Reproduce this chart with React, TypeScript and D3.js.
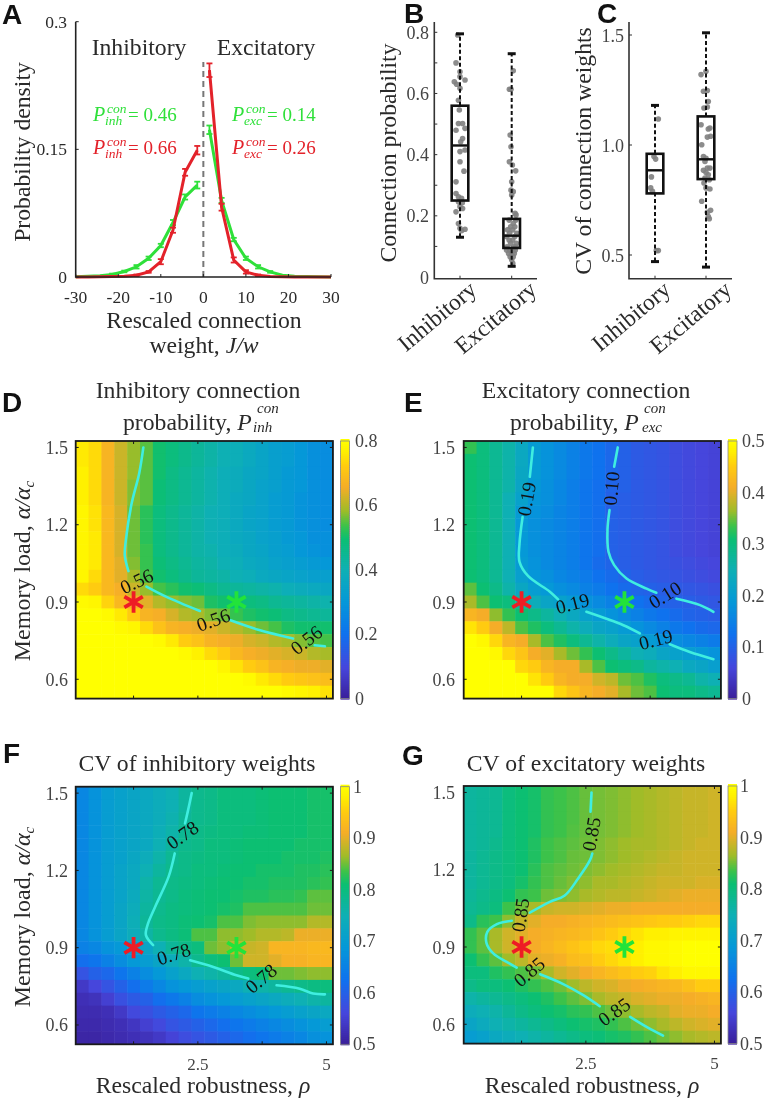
// App.tsx - connection statistics figure, panels A to G
import React from 'react';
import * as d3 from 'd3';

const SERIF = '"Liberation Serif", serif';
const SANS = '"Liberation Sans", sans-serif';
const TEXT = '#2a2a2a';
const GREEN = '#2fe03a';
const RED = '#e3222a';
const LABEL_SIZE = 23.7;

// panel A
const binCentersNeg = [-30, -27.14, -24.29, -21.43, -18.57, -15.71, -12.86, -10, -7.14, -4.29, -1.43];
const binCentersPos = [1.43, 4.29, 7.14, 10, 12.86, 15.71, 18.57, 21.43, 24.29, 27.14, 30];
const greenNeg = [0.0003, 0.0008, 0.0015, 0.003, 0.0065, 0.012, 0.022, 0.037, 0.064, 0.094, 0.108];
const greenNegErr = [0, 0, 0, 0.001, 0.001, 0.002, 0.002, 0.002, 0.003, 0.003, 0.004];
const greenPos = [0.173, 0.09, 0.044, 0.022, 0.012, 0.006, 0.002, 0.001, 0.0005, 0.0002, 0.0001];
const greenPosErr = [0.005, 0.003, 0.002, 0.002, 0.002, 0.001, 0, 0, 0, 0, 0];
const redNeg = [0, 0.0001, 0.0002, 0.0005, 0.001, 0.002, 0.006, 0.018, 0.055, 0.123, 0.149];
const redNegErr = [0, 0, 0, 0, 0, 0.001, 0.001, 0.003, 0.003, 0.004, 0.005];
const redPos = [0.243, 0.082, 0.02, 0.006, 0.002, 0.0005, 0.0002, 0.0001, 0, 0, 0];
const redPosErr = [0.008, 0.004, 0.003, 0.002, 0.001, 0, 0, 0, 0, 0, 0];
const axisATicks = [-30, -20, -10, 0, 10, 20, 30];

// panel B and C boxes: [low whisker, q1, median, q3, high whisker]
const probInhBox = [0.13, 0.25, 0.43, 0.56, 0.795];
const probExcBox = [0.035, 0.095, 0.135, 0.19, 0.73];
const cvInhBox = [0.47, 0.78, 0.885, 0.96, 1.18];
const cvExcBox = [0.445, 0.845, 0.935, 1.13, 1.51];

// scatter over the boxes: [offset from category, value]
const probInhPts = [[-0.045, 0.791], [-0.077, 0.70], [0, 0.671], [0, 0.655], [-0.11, 0.638], [0.097, 0.644], [-0.065, 0.63], [0, 0.617], [-0.03, 0.578], [-0.013, 0.546], [-0.03, 0.502], [0.05, 0.502], [-0.077, 0.48], [0.097, 0.486], [0.05, 0.453], [0.013, 0.442], [0, 0.41], [0.097, 0.415], [0, 0.377], [0.077, 0.346], [-0.077, 0.311], [-0.077, 0.273], [-0.03, 0.262], [0.03, 0.257], [-0.03, 0.246], [0.045, 0.243], [0, 0.23], [0.05, 0.224], [-0.077, 0.213], [-0.03, 0.175], [0, 0.159], [0.097, 0.156], [0.03, 0.151]];
const probExcPts = [[0.03, 0.674], [-0.045, 0.614], [-0.013, 0.614], [-0.03, 0.464], [-0.013, 0.426], [-0.045, 0.377], [0.013, 0.366], [0.077, 0.347], [0, 0.311], [-0.013, 0.284], [0.03, 0.279], [0, 0.268], [0.065, 0.208], [0.084, 0.203], [-0.05, 0.186], [0.08, 0.186], [0.03, 0.175], [-0.02, 0.164], [0.06, 0.164], [-0.08, 0.154], [0.02, 0.154], [0.1, 0.143], [-0.04, 0.143], [0.06, 0.132], [-0.1, 0.132], [0.02, 0.121], [-0.05, 0.121], [0.09, 0.11], [-0.02, 0.11], [-0.09, 0.099], [0.04, 0.099], [0.08, 0.099], [-0.04, 0.088], [0.02, 0.088], [-0.1, 0.088], [0.07, 0.088], [-0.06, 0.077], [0, 0.077], [0.05, 0.077], [-0.03, 0.066], [0.03, 0.066], [0, 0.056], [0.02, 0.045]];
const cvInhPts = [[0.065, 1.118], [-0.02, 0.948], [0.013, 0.936], [-0.07, 0.855], [-0.084, 0.805], [-0.05, 0.789], [0.065, 0.52], [0.026, 0.52]];
const cvExcPts = [[-0.097, 1.32], [0, 1.335], [-0.05, 1.244], [0.026, 1.248], [0.045, 1.198], [-0.04, 1.168], [0.026, 1.173], [-0.097, 1.092], [0.045, 1.073], [0.077, 1.077], [0.026, 1.036], [0.09, 1.04], [-0.084, 1.001], [-0.05, 0.948], [0, 0.94], [-0.02, 0.925], [0.026, 0.895], [0.077, 0.895], [-0.05, 0.885], [0, 0.875], [0.045, 0.865], [-0.02, 0.85], [0.065, 0.842], [-0.04, 0.827], [0, 0.805], [0.077, 0.80], [-0.084, 0.744], [0.09, 0.703], [0.026, 0.694], [0.045, 0.675], [0.065, 0.665]];

// heatmap axes
const rhoCells = [0.25, 0.5, 0.75, 1, 1.25, 1.5, 1.75, 2, 2.25, 2.5, 2.75, 3, 3.25, 3.5, 3.75, 4, 4.25, 4.5, 4.75, 5];
const alphaCells = [1.5, 1.45, 1.4, 1.35, 1.3, 1.25, 1.2, 1.15, 1.1, 1.05, 1, 0.95, 0.9, 0.85, 0.8, 0.75, 0.7, 0.65, 0.6, 0.55];
const rhoTicks = [1.25, 2.5, 3.75, 5];
const alphaTicks = [0.6, 0.9, 1.2, 1.5];

const inhProbGrid = [
  [.76, .74, .67, .62, .58, .55, .50, .48, .46, .44, .42, .40, .39, .37, .35, .33, .32, .30, .28, .27],
  [.76, .74, .67, .62, .58, .55, .50, .48, .46, .44, .42, .40, .39, .37, .35, .33, .32, .30, .28, .27],
  [.77, .74, .67, .62, .58, .55, .50, .47, .45, .43, .41, .39, .38, .36, .35, .33, .31, .30, .28, .27],
  [.77, .74, .67, .62, .57, .55, .49, .47, .45, .43, .41, .39, .38, .36, .34, .33, .31, .30, .28, .27],
  [.77, .74, .67, .62, .57, .55, .49, .47, .45, .43, .41, .39, .37, .36, .34, .32, .31, .29, .28, .27],
  [.78, .75, .68, .63, .56, .52, .48, .46, .44, .42, .40, .39, .37, .35, .34, .32, .31, .29, .28, .27],
  [.78, .75, .68, .63, .56, .52, .48, .46, .44, .42, .40, .39, .37, .35, .34, .32, .31, .29, .28, .27],
  [.78, .76, .68, .63, .56, .52, .48, .46, .44, .42, .40, .39, .37, .36, .34, .33, .31, .30, .28, .28],
  [.78, .76, .68, .63, .56, .53, .48, .46, .44, .42, .41, .39, .38, .36, .35, .33, .32, .30, .29, .28],
  [.78, .76, .68, .64, .57, .53, .49, .47, .45, .43, .42, .40, .39, .37, .36, .34, .33, .32, .31, .30],
  [.78, .74, .68, .64, .59, .54, .50, .48, .46, .44, .43, .42, .40, .39, .37, .36, .35, .34, .33, .33],
  [.74, .72, .68, .66, .62, .58, .54, .52, .50, .49, .47, .45, .44, .43, .42, .41, .39, .38, .37, .36],
  [.79, .78, .73, .68, .66, .64, .60, .58, .57, .56, .51, .50, .49, .48, .47, .45, .44, .43, .42, .41],
  [.80, .80, .79, .76, .72, .67, .66, .63, .60, .59, .57, .56, .53, .51, .50, .49, .47, .46, .45, .44],
  [.80, .80, .80, .79, .78, .74, .70, .67, .66, .65, .64, .62, .60, .58, .56, .54, .51, .50, .50, .50],
  [.80, .80, .80, .80, .80, .80, .79, .76, .72, .70, .67, .66, .65, .63, .62, .60, .59, .57, .55, .54],
  [.80, .80, .80, .80, .80, .80, .80, .80, .79, .77, .74, .72, .68, .66, .65, .64, .63, .62, .60, .59],
  [.80, .80, .80, .80, .80, .80, .80, .80, .80, .80, .80, .78, .75, .72, .70, .67, .66, .65, .65, .64],
  [.80, .80, .80, .80, .80, .80, .80, .80, .80, .80, .80, .80, .80, .79, .76, .74, .72, .71, .70, .69],
  [.80, .80, .80, .80, .80, .80, .80, .80, .80, .80, .80, .80, .80, .80, .80, .80, .79, .78, .77, .75],
];

const excProbGrid = [
  [.33, .30, .28, .26, .23, .195, .18, .165, .15, .135, .125, .11, .10, .09, .085, .08, .07, .065, .06, .055],
  [.31, .30, .28, .26, .23, .195, .18, .165, .15, .135, .125, .11, .10, .09, .085, .08, .07, .065, .06, .055],
  [.31, .30, .28, .26, .225, .195, .18, .165, .15, .135, .125, .11, .10, .09, .085, .08, .07, .065, .06, .055],
  [.31, .30, .28, .26, .22, .19, .175, .16, .145, .13, .12, .105, .10, .09, .085, .08, .07, .065, .06, .055],
  [.31, .30, .28, .25, .21, .185, .175, .16, .145, .13, .12, .10, .095, .09, .085, .08, .07, .065, .06, .055],
  [.31, .30, .28, .25, .195, .18, .17, .155, .145, .13, .12, .10, .095, .09, .085, .08, .07, .065, .06, .055],
  [.31, .30, .28, .25, .19, .175, .165, .155, .145, .13, .12, .10, .095, .09, .085, .08, .07, .065, .06, .055],
  [.31, .30, .28, .25, .19, .175, .165, .155, .145, .13, .12, .10, .095, .09, .085, .08, .07, .065, .06, .055],
  [.31, .30, .28, .25, .19, .175, .165, .155, .145, .13, .12, .10, .095, .09, .085, .08, .07, .065, .06, .055],
  [.31, .30, .28, .25, .195, .18, .165, .155, .145, .13, .115, .105, .095, .09, .085, .08, .075, .07, .065, .06],
  [.31, .30, .28, .25, .205, .185, .175, .16, .15, .14, .125, .115, .105, .095, .09, .085, .08, .075, .07, .065],
  [.345, .31, .29, .26, .225, .20, .19, .175, .165, .15, .14, .125, .115, .105, .10, .095, .09, .085, .08, .075],
  [.37, .34, .31, .30, .27, .24, .22, .21, .195, .18, .165, .15, .14, .125, .115, .105, .10, .095, .09, .085],
  [.42, .41, .36, .33, .31, .29, .27, .25, .23, .21, .195, .18, .165, .15, .135, .125, .115, .105, .10, .095],
  [.47, .45, .41, .38, .34, .32, .30, .28, .26, .24, .22, .21, .195, .18, .165, .15, .135, .125, .115, .11],
  [.50, .49, .46, .42, .41, .37, .34, .32, .30, .28, .26, .24, .22, .21, .195, .18, .17, .16, .15, .14],
  [.50, .50, .49, .46, .44, .41, .40, .37, .35, .33, .31, .29, .27, .25, .24, .22, .21, .20, .19, .18],
  [.50, .50, .50, .50, .46, .45, .42, .41, .41, .37, .34, .31, .30, .29, .27, .26, .25, .23, .22, .205],
  [.50, .50, .50, .50, .50, .47, .45, .42, .41, .41, .39, .38, .35, .34, .32, .30, .29, .28, .26, .25],
  [.50, .50, .50, .50, .50, .50, .50, .46, .44, .42, .41, .40, .37, .35, .34, .31, .30, .30, .29, .28],
];

const inhCvGrid = [
  [.66, .68, .70, .71, .72, .73, .74, .75, .77, .785, .79, .80, .80, .80, .805, .81, .81, .81, .815, .815],
  [.66, .68, .70, .71, .72, .73, .74, .75, .77, .785, .79, .80, .80, .80, .805, .81, .81, .81, .815, .815],
  [.66, .68, .70, .71, .72, .73, .74, .755, .775, .785, .79, .80, .80, .80, .805, .81, .81, .81, .815, .815],
  [.66, .68, .70, .71, .72, .73, .745, .76, .78, .79, .795, .80, .80, .805, .805, .81, .81, .81, .815, .815],
  [.66, .68, .70, .71, .72, .73, .75, .77, .785, .79, .80, .80, .805, .81, .81, .81, .81, .815, .815, .815],
  [.66, .68, .70, .71, .725, .74, .76, .78, .79, .795, .80, .80, .805, .81, .81, .81, .815, .815, .815, .82],
  [.66, .68, .70, .715, .73, .75, .77, .785, .79, .80, .80, .805, .81, .81, .815, .815, .815, .82, .82, .825],
  [.66, .68, .70, .715, .73, .76, .78, .79, .795, .80, .805, .81, .81, .815, .815, .82, .82, .82, .825, .83],
  [.66, .68, .70, .715, .735, .765, .78, .79, .80, .805, .81, .81, .815, .82, .82, .825, .825, .83, .845, .845],
  [.66, .68, .70, .72, .74, .77, .785, .795, .80, .805, .81, .815, .82, .84, .84, .84, .84, .84, .85, .85],
  [.66, .68, .70, .72, .745, .775, .79, .795, .805, .81, .815, .84, .84, .855, .86, .86, .86, .86, .875, .875],
  [.66, .68, .70, .72, .74, .765, .785, .795, .805, .84, .84, .86, .86, .865, .875, .875, .88, .905, .905, .905],
  [.65, .66, .68, .69, .70, .72, .75, .775, .79, .80, .85, .86, .88, .885, .89, .92, .92, .92, .925, .925],
  [.62, .63, .65, .67, .69, .70, .72, .74, .76, .785, .80, .81, .85, .89, .89, .90, .915, .915, .92, .92],
  [.58, .60, .61, .63, .65, .67, .69, .71, .73, .75, .76, .77, .79, .80, .81, .85, .85, .855, .86, .86],
  [.54, .56, .58, .60, .62, .64, .66, .68, .69, .70, .71, .72, .73, .75, .76, .77, .78, .79, .795, .80],
  [.525, .53, .55, .575, .59, .60, .62, .635, .65, .67, .68, .69, .70, .71, .72, .73, .74, .75, .76, .77],
  [.52, .52, .525, .54, .565, .575, .59, .60, .61, .63, .64, .65, .66, .67, .68, .69, .70, .71, .72, .73],
  [.515, .515, .52, .525, .535, .55, .565, .58, .59, .60, .61, .62, .63, .64, .65, .66, .67, .68, .69, .70],
  [.51, .51, .515, .52, .525, .53, .54, .555, .57, .58, .59, .60, .61, .62, .63, .64, .65, .66, .675, .68],
];

const excCvGrid = [
  [.77, .775, .78, .80, .81, .815, .83, .835, .84, .848, .852, .855, .86, .865, .87, .875, .88, .885, .885, .89],
  [.77, .775, .78, .80, .81, .815, .83, .835, .84, .848, .852, .855, .86, .865, .87, .875, .88, .885, .885, .89],
  [.77, .775, .78, .80, .81, .815, .83, .835, .84, .848, .852, .855, .86, .865, .87, .875, .88, .885, .885, .89],
  [.77, .775, .78, .80, .81, .815, .83, .835, .842, .848, .852, .855, .86, .865, .87, .875, .88, .885, .885, .89],
  [.77, .775, .785, .80, .81, .82, .835, .84, .845, .85, .855, .86, .865, .87, .87, .875, .88, .885, .89, .89],
  [.77, .78, .79, .80, .81, .82, .835, .84, .848, .85, .855, .86, .865, .87, .875, .88, .885, .89, .89, .89],
  [.77, .78, .79, .80, .81, .825, .84, .845, .85, .855, .86, .865, .87, .875, .88, .885, .885, .89, .89, .89],
  [.77, .78, .79, .80, .815, .83, .84, .848, .855, .86, .87, .87, .875, .88, .885, .89, .89, .89, .895, .895],
  [.775, .785, .795, .81, .83, .835, .85, .855, .86, .87, .875, .88, .88, .885, .89, .895, .90, .905, .905, .905],
  [.78, .79, .80, .835, .85, .87, .885, .89, .89, .895, .90, .905, .905, .91, .91, .91, .91, .91, .91, .91],
  [.79, .825, .835, .86, .885, .90, .91, .91, .915, .92, .925, .93, .935, .94, .945, .95, .95, .955, .96, .96],
  [.83, .845, .87, .89, .90, .91, .915, .92, .925, .93, .94, .95, .96, .97, .98, .98, .985, .985, .985, .985],
  [.83, .845, .87, .89, .905, .91, .92, .93, .94, .95, .96, .965, .975, .98, .99, .99, .995, 1, 1, 1],
  [.81, .83, .845, .865, .88, .90, .905, .915, .93, .935, .95, .96, .97, .98, .99, .99, .995, 1, 1, 1],
  [.80, .80, .82, .83, .84, .85, .87, .89, .90, .91, .92, .93, .94, .95, .955, .97, .98, .99, .99, .99],
  [.79, .80, .80, .81, .82, .83, .84, .85, .865, .88, .89, .895, .905, .91, .915, .92, .925, .935, .95, .95],
  [.76, .77, .78, .79, .80, .81, .82, .835, .845, .855, .87, .88, .885, .895, .90, .905, .905, .91, .915, .92],
  [.74, .75, .76, .775, .79, .80, .81, .815, .825, .83, .84, .85, .86, .87, .88, .885, .90, .905, .905, .91],
  [.72, .735, .75, .76, .77, .78, .79, .80, .81, .815, .82, .83, .84, .85, .86, .87, .88, .89, .895, .90],
  [.70, .71, .73, .74, .75, .76, .77, .78, .79, .80, .805, .815, .82, .83, .84, .85, .86, .87, .875, .88],
];

// contours, [rho, alpha], split where the labels sit
const inhProbLines = [
  [[1.44, 1.5], [1.36, 1.4], [1.21, 1.28], [1.1, 1.14], [1.08, 1.08], [1.15, 1.02]],
  [[1.5, 0.96], [1.89, 0.92], [2.54, 0.865]],
  [[3.12, 0.83], [3.71, 0.79], [4.35, 0.758]],
  [[4.77, 0.732], [4.97, 0.728]],
];
const inhProbLabels = [['0.56', 1.31, 0.98, -25], ['0.56', 2.8, 0.83, -20], ['0.56', 4.61, 0.752, -38]];
const excProbLines = [
  [[1.47, 1.5], [1.41, 1.386]],
  [[1.27, 1.23], [1.21, 1.127], [1.21, 1.056], [1.38, 1], [1.8, 0.94], [1.96, 0.91]],
  [[2.51, 0.862], [3.23, 0.81], [3.55, 0.778]],
  [[4.13, 0.736], [4.52, 0.706], [4.98, 0.678]],
  [[3.12, 1.5], [3.05, 1.425]],
  [[2.96, 1.257], [2.92, 1.18], [2.94, 1.095], [3.05, 1.043], [3.29, 0.991], [3.68, 0.952], [3.87, 0.936]],
  [[4.26, 0.913], [4.72, 0.888], [4.98, 0.862]],
];
const excProbLabels = [['0.19', 1.35, 1.3, -80], ['0.19', 2.24, 0.894, -15], ['0.19', 3.86, 0.754, -15], ['0.10', 3.0, 1.341, -85], ['0.10', 4.04, 0.927, -32]];
const inhCvLines = [
  [[2.38, 1.5], [2.31, 1.434], [2.25, 1.382]],
  [[2.05, 1.266], [1.93, 1.175], [1.67, 1.059], [1.52, 0.987], [1.49, 0.949], [1.63, 0.91]],
  [[2.35, 0.851], [2.8, 0.825], [3.25, 0.793], [3.48, 0.78]],
  [[4.03, 0.754], [4.48, 0.741], [4.74, 0.722], [4.97, 0.719]],
];
const inhCvLabels = [['0.78', 2.2, 1.337, -35], ['0.78', 2.03, 0.875, -18], ['0.78', 3.73, 0.78, -40]];
const excCvLines = [
  [[2.61, 1.5], [2.59, 1.425]],
  [[2.625, 1.263], [2.58, 1.237], [2.35, 1.166], [2.09, 1.1], [1.8, 1.075], [1.41, 1.033]],
  [[1.06, 1.002], [0.77, 0.989], [0.585, 0.959], [0.57, 0.914], [0.7, 0.875], [0.96, 0.842], [1.155, 0.82]],
  [[1.61, 0.794], [2.06, 0.756], [2.45, 0.713], [2.77, 0.67]],
  [[3.36, 0.629], [3.68, 0.59], [4.0, 0.556]],
];
const excCvLabels = [['0.85', 2.61, 1.338, -80], ['0.85', 1.23, 1.024, -82], ['0.85', 1.4, 0.803, -40], ['0.85', 3.05, 0.648, -35]];

const starRho = [1.25, 3.25];
const starColor = ['#ee1c25', '#22e33a'];

// saturated parula look of the colour bars
const cmap = d3.scaleLinear<string>()
  .domain([0, 0.12, 0.25, 0.375, 0.5, 0.62, 0.67, 0.73, 0.82, 0.9, 0.96, 1])
  .range(['#3a1f9a', '#4646dc', '#0f72ee', '#0598d8', '#0eb0b4', '#0cbf72', '#3cc24a', '#a0bc28', '#f5ad28', '#ffcb10', '#fff000', '#ffff00'])
  .interpolate(d3.interpolateRgb);

function PanelA() {
  const x = d3.scaleLinear().domain([-30, 30]).range([75.7, 331]);
  const y = d3.scaleLinear().domain([0, 0.3]).range([277, 21.7]);
  const line = d3.line<number[]>().x((d) => x(d[0])).y((d) => y(d[1]));
  const series = [
    { color: GREEN, xs: binCentersNeg, ys: greenNeg, es: greenNegErr },
    { color: GREEN, xs: binCentersPos, ys: greenPos, es: greenPosErr },
    { color: RED, xs: binCentersNeg, ys: redNeg, es: redNegErr },
    { color: RED, xs: binCentersPos, ys: redPos, es: redPosErr },
  ];
  return (
    <g>
      <line x1={x(0)} x2={x(0)} y1={y(0)} y2={62} stroke="#777" strokeWidth={2} strokeDasharray="6 4" />
      {series.map((s, i) => (
        <g key={i} stroke={s.color} fill="none">
          <path d={line(s.xs.map((v, k) => [v, s.ys[k]])) as string} strokeWidth={3} />
          {s.xs.map((v, k) => s.es[k] > 0 && (
            <g key={k} strokeWidth={1.8}>
              <line x1={x(v)} x2={x(v)} y1={y(s.ys[k] - s.es[k])} y2={y(s.ys[k] + s.es[k])} />
              <line x1={x(v) - 3} x2={x(v) + 3} y1={y(s.ys[k] - s.es[k])} y2={y(s.ys[k] - s.es[k])} />
              <line x1={x(v) - 3} x2={x(v) + 3} y1={y(s.ys[k] + s.es[k])} y2={y(s.ys[k] + s.es[k])} />
            </g>
          ))}
        </g>
      ))}
      <path d={`M${x(-30)},${y(0.3)}V${y(0)}H${x(30)}`} fill="none" stroke="#222" strokeWidth={1.6} />
      {axisATicks.map((t) => (
        <g key={t}>
          <line x1={x(t)} x2={x(t)} y1={y(0)} y2={y(0) - 3} stroke="#222" />
          <text x={x(t)} y={303} textAnchor="middle" fontSize={17.5} fill={TEXT}>{t}</text>
        </g>
      ))}
      {[0, 0.15, 0.3].map((t) => (
        <g key={t}>
          <line x1={x(-30)} x2={x(-30) + 3} y1={y(t)} y2={y(t)} stroke="#222" />
          <text x={67} y={y(t) + 6} textAnchor="end" fontSize={17.5} fill={TEXT}>{t}</text>
        </g>
      ))}
      <text x={139} y={55} textAnchor="middle" fontSize={LABEL_SIZE} fill={TEXT}>Inhibitory</text>
      <text x={266} y={55} textAnchor="middle" fontSize={LABEL_SIZE} fill={TEXT}>Excitatory</text>
      <PLabel x={93} y={121} sub="inh" val="0.46" color={GREEN} />
      <PLabel x={93} y={154} sub="inh" val="0.66" color={RED} />
      <PLabel x={232} y={121} sub="exc" val="0.14" color={GREEN} />
      <PLabel x={232} y={154} sub="exc" val="0.26" color={RED} />
      <text transform="translate(30,152) rotate(-90)" textAnchor="middle" fontSize={LABEL_SIZE} fill={TEXT}>Probability density</text>
      <text x={204} y={328} textAnchor="middle" fontSize={LABEL_SIZE} fill={TEXT}>Rescaled connection</text>
      <text x={204} y={353} textAnchor="middle" fontSize={LABEL_SIZE} fill={TEXT}>weight, <tspan fontStyle="italic">J/w</tspan></text>
    </g>
  );
}

function PLabel({ x, y, sub, val, color }: { x: number; y: number; sub: string; val: string; color: string }) {
  return (
    <g fill={color}>
      <text x={x} y={y} fontSize={20} fontStyle="italic">P</text>
      <text x={x + 14} y={y - 8} fontSize={13.5} fontStyle="italic">con</text>
      <text x={x + 12} y={y + 4} fontSize={13.5} fontStyle="italic">{sub}</text>
      <text x={x + 35} y={y} fontSize={19}>{'= ' + val}</text>
    </g>
  );
}

function BoxPanel({ axisX, xEnd, cats, domain, range, major, minor, tickRight, boxes, points, label, labelX, labelY, nameEnds }: any) {
  const x = d3.scaleLinear().domain([1, 2]).range(cats);
  const y = d3.scaleLinear().domain(domain).range(range);
  const names = ['Inhibitory', 'Excitatory'];
  return (
    <g>
      {points.map((pts: number[][], i: number) => pts.map((p, k) => (
        <circle key={i + '-' + k} cx={x(i + 1 + p[0])} cy={y(p[1])} r={2.8} fill="#808080" opacity={0.9} />
      )))}
      {boxes.map((b: number[], i: number) => {
        const cx = x(i + 1);
        return (
          <g key={i} fill="none" stroke="#111">
            <line x1={cx} x2={cx} y1={y(b[0])} y2={y(b[1])} strokeWidth={2} strokeDasharray="4 2.5" />
            <line x1={cx} x2={cx} y1={y(b[3])} y2={y(b[4])} strokeWidth={2} strokeDasharray="4 2.5" />
            <line x1={cx - 4} x2={cx + 4} y1={y(b[0])} y2={y(b[0])} strokeWidth={3} />
            <line x1={cx - 4} x2={cx + 4} y1={y(b[4])} y2={y(b[4])} strokeWidth={3} />
            <rect x={cx - 8.3} width={16.6} y={y(b[3])} height={y(b[1]) - y(b[3])} strokeWidth={2.6} />
            <line x1={cx - 8.3} x2={cx + 8.3} y1={y(b[2])} y2={y(b[2])} strokeWidth={2.4} />
          </g>
        );
      })}
      <path d={`M${axisX},22V278.7H${xEnd}`} fill="none" stroke="#333" strokeWidth={1.6} />
      {minor.map((t: number) => <line key={t} x1={axisX} x2={axisX + 3} y1={y(t)} y2={y(t)} stroke="#333" />)}
      {major.map((t: string) => (
        <text key={t} x={tickRight} y={y(+t) + 6.5} textAnchor="end" fontSize={18} fill="#444">{t}</text>
      ))}
      {names.map((n, i) => (
        <g key={n}>
          <line x1={x(i + 1)} x2={x(i + 1)} y1={278.7} y2={275.7} stroke="#333" />
          <text transform={`translate(${nameEnds[i]},292) rotate(-40)`} textAnchor="end" fontSize={23.5} fill={TEXT}>{n}</text>
        </g>
      ))}
      <text transform={`translate(${labelX},${labelY}) rotate(-90)`} textAnchor="middle" fontSize={LABEL_SIZE} fill={TEXT}>{label}</text>
    </g>
  );
}

function Heat({ left, top, grid, vmin, vmax, barX, barLabelX, cbTicks, tickRight, lines, labels, xLabels }: any) {
  const x = d3.scaleLinear().domain([0.125, 5.125]).range([left, left + 257.2]);
  const y = d3.scaleLinear().domain([1.525, 0.525]).range([top, top + 257.6]);
  const color = (v: number) => cmap((v - vmin) / (vmax - vmin));
  const line = d3.line<number[]>().x((d) => x(d[0])).y((d) => y(d[1])).curve(d3.curveCatmullRom);
  const barY = d3.scaleLinear().domain([vmin, vmax]).range([top + 257.6, top]);
  const barSteps = d3.range(0, 130).map((i) => vmin + ((vmax - vmin) * i) / 129);
  const star = d3.symbol().type(d3.symbolAsterisk).size(320);
  return (
    <g>
      {grid.map((row: number[], r: number) => row.map((v, c) => (
        <rect key={r + '-' + c} x={x(rhoCells[c] - 0.125)} y={y(alphaCells[r] + 0.025)} width={x(0.375) - x(0.125) + 0.5} height={y(1) - y(1.05) + 0.5} fill={color(v)} />
      )))}
      {lines.map((seg: number[][], i: number) => (
        <path key={i} d={line(seg) as string} fill="none" stroke="#3feee0" strokeWidth={2.6} strokeLinecap="round" strokeLinejoin="round" />
      ))}
      {labels.map((l: any[], i: number) => (
        <text key={i} transform={`translate(${x(l[1])},${y(l[2])}) rotate(${l[3]})`} textAnchor="middle" dominantBaseline="central" fontSize={19.5} fill="#111">{l[0]}</text>
      ))}
      {starRho.map((r, i) => (
        <path key={i} transform={`translate(${x(r)},${y(0.9)})`} d={star() as string} stroke={starColor[i]} strokeWidth={3.8} fill="none" />
      ))}
      <rect x={left} y={top} width={257.2} height={257.6} fill="none" stroke="#1a1a1a" strokeWidth={1.8} />
      {rhoTicks.map((t) => (
        <g key={t} stroke="#1a1a1a">
          <line x1={x(t)} x2={x(t)} y1={top} y2={top + 3} />
          <line x1={x(t)} x2={x(t)} y1={top + 257.6} y2={top + 254.6} />
        </g>
      ))}
      {alphaTicks.map((t) => (
        <g key={t}>
          <line x1={left} x2={left + 3} y1={y(t)} y2={y(t)} stroke="#1a1a1a" />
          <line x1={left + 257.2} x2={left + 254.2} y1={y(t)} y2={y(t)} stroke="#1a1a1a" />
          <text x={tickRight} y={y(t) + 6.5} textAnchor="end" fontSize={18} fill="#444">{t.toFixed(1)}</text>
        </g>
      ))}
      {xLabels && ['2.5', '5'].map((t) => (
        <text key={t} x={x(+t)} y={top + 283} textAnchor="middle" fontSize={17} fill="#444">{t}</text>
      ))}
      {barSteps.map((v, i) => (
        <rect key={i} x={barX} width={9} y={barY(v) - 2} height={3} fill={color(v)} />
      ))}
      <rect x={barX} y={top} width={9} height={257.6} fill="none" stroke="#888" strokeWidth={0.8} />
      {cbTicks.map((t: string) => (
        <text key={t} x={barLabelX} y={barY(+t) + 6} fontSize={18} fill="#444">{t}</text>
      ))}
    </g>
  );
}

function Letter({ x, y, t }: { x: number; y: number; t: string }) {
  return <text x={x} y={y} fontFamily={SANS} fontWeight="bold" fontSize={28} fill="#111">{t}</text>;
}

function MemoryLabel({ y }: { y: number }) {
  return (
    <text transform={`translate(30,${y}) rotate(-90)`} textAnchor="middle" fontSize={24} fill={TEXT}>
      Memory load, <tspan fontStyle="italic">α/α</tspan><tspan fontStyle="italic" fontSize={15} dy={4}>c</tspan>
    </text>
  );
}

export default function App() {
  return (
    <svg width={766} height={1101} fontFamily={SERIF} style={{ position: 'absolute', left: 0, top: 0, background: '#fff', filter: 'blur(0.5px)' }}>
      <Letter x={2} y={24} t="A" />
      <Letter x={404} y={23} t="B" />
      <Letter x={597} y={23} t="C" />
      <Letter x={2} y={412} t="D" />
      <Letter x={404} y={412} t="E" />
      <Letter x={3} y={763} t="F" />
      <Letter x={402} y={765} t="G" />

      <PanelA />
      <BoxPanel axisX={434.3} xEnd={537} cats={[460, 511.7]} domain={[0, 0.8]} range={[277, 32.3]}
        major={['0', '0.2', '0.4', '0.6', '0.8']} minor={[0.1, 0.2, 0.3, 0.4, 0.5, 0.6, 0.7, 0.8]} tickRight={429}
        boxes={[probInhBox, probExcBox]} points={[probInhPts, probExcPts]}
        label="Connection probability" labelX={396} labelY={153} nameEnds={[478, 538]} />
      <BoxPanel axisX={629} xEnd={732} cats={[655, 706]} domain={[0.5, 1.5]} range={[255, 35]}
        major={['0.5', '1.0', '1.5']} minor={[0.5, 1, 1.5]} tickRight={624}
        boxes={[cvInhBox, cvExcBox]} points={[cvInhPts, cvExcPts]}
        label="CV of connection weights" labelX={591} labelY={151} nameEnds={[672, 733]} />

      <text x={198} y={398} textAnchor="middle" fontSize={LABEL_SIZE} fill={TEXT}>Inhibitory connection</text>
      <text x={123} y={430} fontSize={LABEL_SIZE} fill={TEXT}>probability, <tspan fontStyle="italic">P</tspan></text>
      <text x={257} y={413} fontSize={15} fontStyle="italic" fill={TEXT}>con</text>
      <text x={253} y={432} fontSize={15} fontStyle="italic" fill={TEXT}>inh</text>
      <text x={586} y={398} textAnchor="middle" fontSize={LABEL_SIZE} fill={TEXT}>Excitatory connection</text>
      <text x={510} y={430} fontSize={LABEL_SIZE} fill={TEXT}>probability, <tspan fontStyle="italic">P</tspan></text>
      <text x={644} y={413} fontSize={15} fontStyle="italic" fill={TEXT}>con</text>
      <text x={642} y={432} fontSize={15} fontStyle="italic" fill={TEXT}>exc</text>
      <text x={197} y={771} textAnchor="middle" fontSize={LABEL_SIZE} fill={TEXT}>CV of inhibitory weights</text>
      <text x={586} y={771} textAnchor="middle" fontSize={LABEL_SIZE} fill={TEXT}>CV of excitatory weights</text>

      <Heat left={75.7} top={441} grid={inhProbGrid} vmin={0} vmax={0.8} barX={340.5} barLabelX={355} cbTicks={['0', '0.2', '0.4', '0.6', '0.8']}
        tickRight={68} lines={inhProbLines} labels={inhProbLabels} />
      <Heat left={463.7} top={441} grid={excProbGrid} vmin={0} vmax={0.5} barX={728} barLabelX={742} cbTicks={['0', '0.1', '0.2', '0.3', '0.4', '0.5']}
        tickRight={455} lines={excProbLines} labels={excProbLabels} />
      <Heat left={75.7} top={786.7} grid={inhCvGrid} vmin={0.5} vmax={1} barX={340.5} barLabelX={353} cbTicks={['0.5', '0.6', '0.7', '0.8', '0.9', '1']}
        tickRight={68} lines={inhCvLines} labels={inhCvLabels} xLabels />
      <Heat left={463.7} top={786} grid={excCvGrid} vmin={0.5} vmax={1} barX={728} barLabelX={740} cbTicks={['0.5', '0.6', '0.7', '0.8', '0.9', '1']}
        tickRight={455} lines={excCvLines} labels={excCvLabels} xLabels />

      <MemoryLabel y={571} />
      <MemoryLabel y={917} />
      <text x={203} y={1093} textAnchor="middle" fontSize={LABEL_SIZE} fill={TEXT}>Rescaled robustness, <tspan fontStyle="italic">ρ</tspan></text>
      <text x={592} y={1093} textAnchor="middle" fontSize={LABEL_SIZE} fill={TEXT}>Rescaled robustness, <tspan fontStyle="italic">ρ</tspan></text>
    </svg>
  );
}
